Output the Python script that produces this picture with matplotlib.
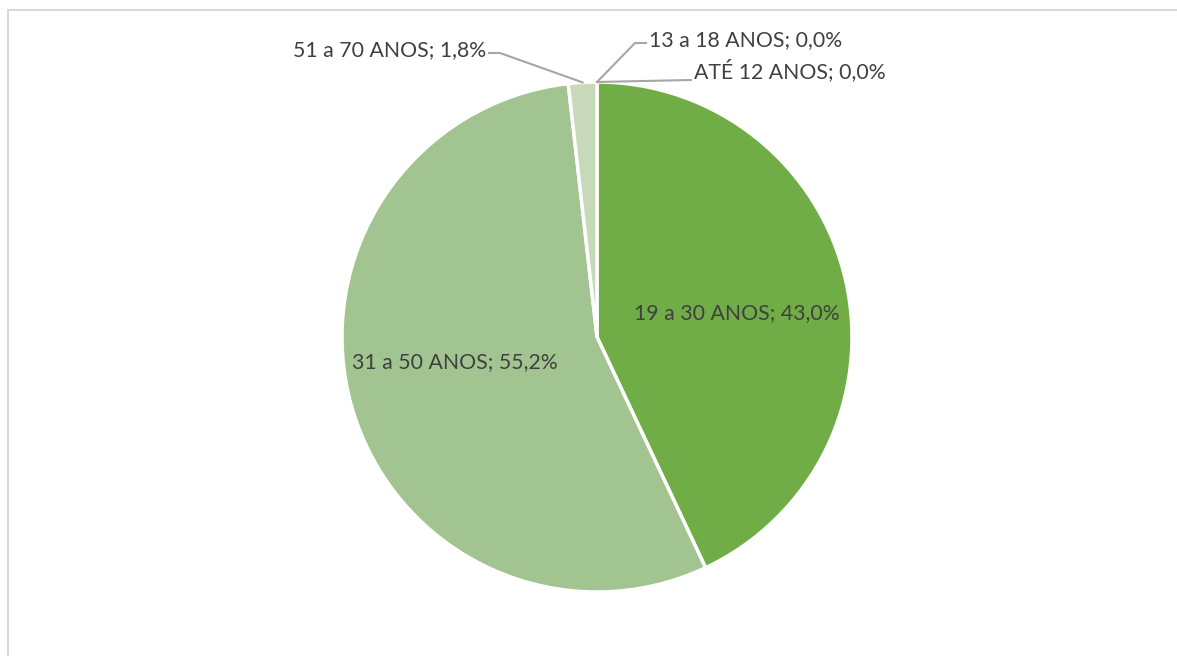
"""
Age distribution pie chart (faixa etária).

Run: python plot.py
"""

import numpy as np
import matplotlib.pyplot as plt
from matplotlib.patches import Rectangle

CATEGORIES = ["ATÉ 12 ANOS", "13 a 18 ANOS", "19 a 30 ANOS", "31 a 50 ANOS", "51 a 70 ANOS"]
PERCENTS = [0.0, 0.0, 43.0, 55.2, 1.8]
COLORS = ["#4E7F2E", "#5E9A38", "#70AD47", "#A2C491", "#C6D9B9"]

W, H = 1177, 656
CENTER = (597, H - 337)
RADIUS = 255
TEXT_COLOR = "#404040"
LINE_COLOR = "#A6A6A6"


def fmt(label, value):
    return f"{label}; {value:.1f}%".replace(".", ",")


def main() -> None:
    plt.rcParams["font.family"] = ["Lato", "DejaVu Sans"]
    fig = plt.figure(figsize=(W / 100, H / 100), dpi=100)
    ax = fig.add_axes([0, 0, 1, 1])

    wedges, _ = ax.pie(PERCENTS, colors=COLORS, startangle=90, counterclock=False,
                       center=CENTER, radius=RADIUS,
                       wedgeprops=dict(edgecolor="white", linewidth=2.5))
    # pie() resets the limits, so set them afterwards
    ax.set_xlim(0, W)
    ax.set_ylim(0, H)
    ax.set_aspect("equal")
    ax.axis("off")

    # chart area border (only top and left visible in the crop)
    ax.add_patch(Rectangle((7.5, -20), W + 40, H - 9.5 + 20, fill=False,
                           edgecolor="#D9D9D9", linewidth=1.5, zorder=0))

    def edge_point(w):
        ang = np.deg2rad((w.theta1 + w.theta2) / 2)
        return (CENTER[0] + RADIUS * np.cos(ang), CENTER[1] + RADIUS * np.sin(ang))

    fs = 15.3
    # inside labels
    ax.text(737, H - 313, fmt(CATEGORIES[2], PERCENTS[2]), ha="center", va="center",
            fontsize=fs, color=TEXT_COLOR)
    ax.text(455, H - 362, fmt(CATEGORIES[3], PERCENTS[3]), ha="center", va="center",
            fontsize=fs, color=TEXT_COLOR)

    # outside labels with leader lines
    px, py = edge_point(wedges[4])
    ax.plot([px, 500, 489], [py, H - 53, H - 53], color=LINE_COLOR, lw=1.5)
    ax.text(486, H - 50, fmt(CATEGORIES[4], PERCENTS[4]), ha="right", va="center",
            fontsize=fs, color=TEXT_COLOR)

    px, py = edge_point(wedges[1])
    ax.plot([px, 635, 646], [py, H - 43, H - 43], color=LINE_COLOR, lw=1.5)
    ax.text(649, H - 40, fmt(CATEGORIES[1], PERCENTS[1]), ha="left", va="center",
            fontsize=fs, color=TEXT_COLOR)

    px, py = edge_point(wedges[0])
    ax.plot([px, 691], [py, H - 80], color=LINE_COLOR, lw=1.5)
    ax.text(694, H - 71, fmt(CATEGORIES[0], PERCENTS[0]), ha="left", va="center",
            fontsize=fs, color=TEXT_COLOR)

    fig.savefig("out.png", dpi=100, facecolor="white")
    plt.close(fig)


if __name__ == "__main__":
    main()
